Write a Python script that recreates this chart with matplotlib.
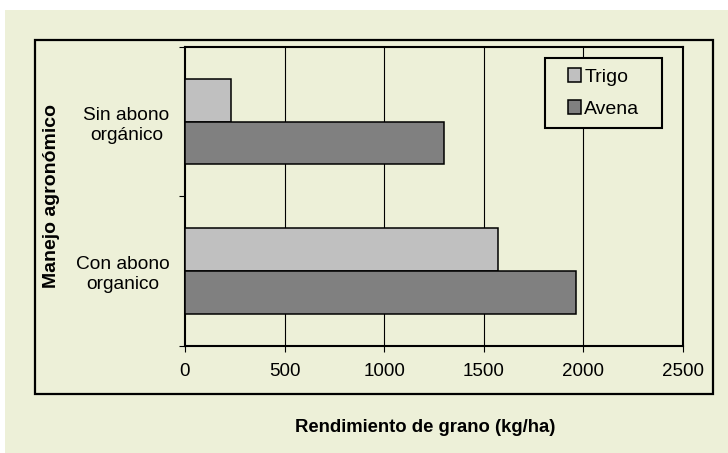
"""
Rendimiento de grano de trigo y avena segun manejo agronomico
"""

import numpy as np
import matplotlib.pyplot as plt
from matplotlib.patches import Rectangle, Patch

plt.rcParams['font.family'] = ['Liberation Sans', 'DejaVu Sans']

# Data
categories = ['Con abono\norganico', 'Sin abono\norgánico']
series_names = ['Trigo', 'Avena']
trigo = [1570, 230]
avena = [1965, 1300]
x_ticks = [0, 500, 1000, 1500, 2000, 2500]

bg = '#edf0d8'
col_trigo = '#c0c0c0'
col_avena = '#808080'

W, H = 728, 453
fig = plt.figure(figsize=(W / 100, H / 100), dpi=100)
fig.patch.set_facecolor('white')

# beige panel and the outer black frame
fig.patches.append(Rectangle((5 / W, 0), 1, 1 - 10 / H, transform=fig.transFigure,
                             facecolor=bg, edgecolor='none', zorder=-2))
fig.patches.append(Rectangle((35 / W, 1 - 394 / H), (713 - 35) / W, (394 - 40) / H,
                             transform=fig.transFigure, facecolor='none',
                             edgecolor='black', linewidth=1.6, zorder=-1))

left, right = 185 / W, 683 / W
bottom, top = 1 - 345.6 / H, 1 - 47 / H
ax = fig.add_axes([left, bottom, right - left, top - bottom])
ax.set_facecolor(bg)

y = np.arange(len(categories))
h = 0.285
ax.barh(y + h / 2, trigo, height=h, color=col_trigo, edgecolor='black',
        linewidth=1.1, label=series_names[0], zorder=3)
ax.barh(y - h / 2, avena, height=h, color=col_avena, edgecolor='black',
        linewidth=1.1, label=series_names[1], zorder=3)

ax.set_xlim(0, 2500)
ax.set_ylim(-0.5, 1.5)
ax.set_xticks(x_ticks)
ax.set_xticklabels([str(v) for v in x_ticks], fontsize=13.5)
ax.tick_params(axis='x', direction='out', length=4.5, width=0.8, pad=8)

# category boundaries as major ticks, names as minor ticks
ax.set_yticks([-0.5, 0.5, 1.5])
ax.set_yticklabels([])
ax.tick_params(axis='y', which='major', direction='out', length=4.5, width=0.8)
ax.set_yticks(y, minor=True)
ax.set_yticklabels(categories, minor=True, fontsize=13.8, linespacing=1.25,
                   multialignment='center')
ax.tick_params(axis='y', which='minor', length=0, pad=11)

for v in x_ticks[1:-1]:
    ax.axvline(v, color='black', linewidth=0.8, zorder=1)

for s in ax.spines.values():
    s.set_linewidth(1.5)
    s.set_color('black')

# legend: frame drawn separately so the padding can be wider than tall
lx0, lx1, ly0, ly1 = 545, 662, 58, 128
ax_w, ax_h = 683 - 185, 345.6 - 47
ax.add_patch(Rectangle((lx0 / W, 1 - ly1 / H), (lx1 - lx0) / W, (ly1 - ly0) / H,
                       transform=fig.transFigure, facecolor=bg, clip_on=False,
                       edgecolor='black', linewidth=1.5, zorder=5))
handles = [Patch(facecolor=col_trigo, edgecolor='black', linewidth=1.1),
           Patch(facecolor=col_avena, edgecolor='black', linewidth=1.1)]
leg = ax.legend(handles, series_names, loc='center',
                bbox_to_anchor=(((lx0 + lx1) / 2 - 185) / ax_w,
                                (345.6 - (ly0 + ly1) / 2) / ax_h),
                fontsize=14, frameon=False, borderaxespad=0, borderpad=0,
                handlelength=0.7, handleheight=0.7, handletextpad=0.15,
                labelspacing=0.75)
leg.set_zorder(6)

fig.text(51.7 / W, 1 - 196 / H, 'Manejo agronómico', rotation=90,
         ha='center', va='center', fontsize=14, fontweight='bold')
fig.text(425 / W, 1 - 427 / H, 'Rendimiento de grano (kg/ha)',
         ha='center', va='center', fontsize=13.3, fontweight='bold')

plt.savefig('out.png', dpi=100)
